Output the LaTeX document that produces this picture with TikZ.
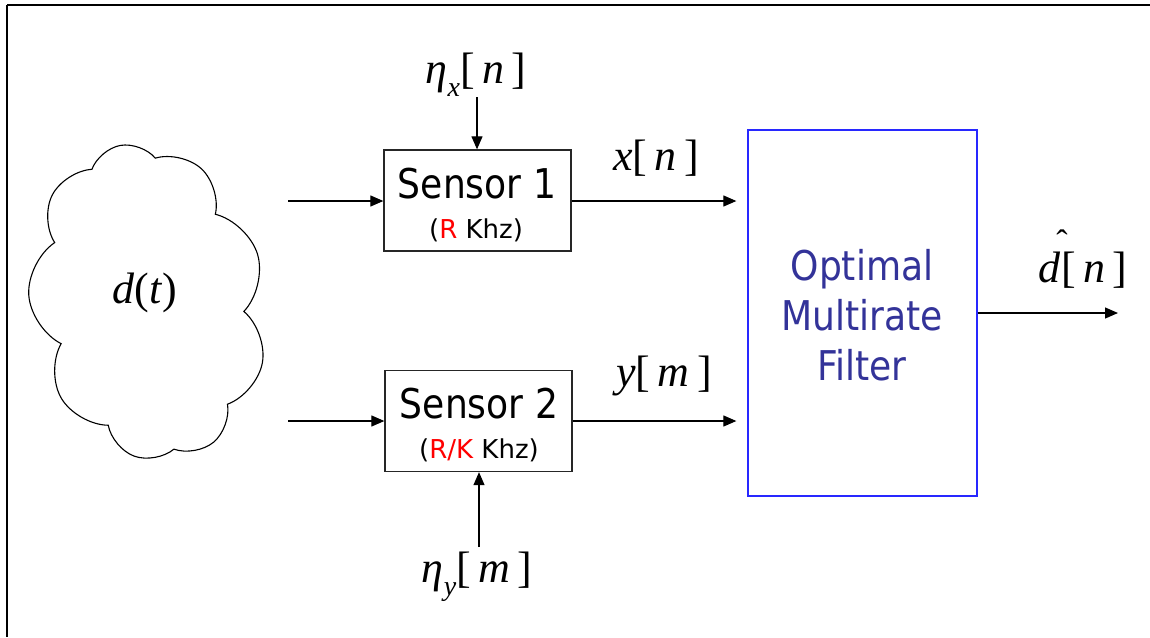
\documentclass[tikz,border=0pt]{standalone}
\usepackage{fontspec}
\setmainfont{Liberation Serif}
\newfontfamily\sensorfont[FakeStretch=0.88]{DejaVu Sans}
\newfontfamily\ratefont{DejaVu Sans}
\usetikzlibrary{arrows.meta,shapes.symbols}
\definecolor{filterblue}{RGB}{51,51,153}
\definecolor{boxblue}{RGB}{40,40,255}
\definecolor{rateRed}{RGB}{255,0,0}
\tikzset{
  conn/.style={line width=1.2pt,-{Triangle[length=13pt,width=11pt]}},
  sensorbox/.style={draw=black!85,line width=1.3pt,minimum width=187pt,minimum height=101pt,inner sep=0pt},
  filterbox/.style={draw=boxblue,line width=1.3pt,minimum width=229pt,minimum height=366pt,inner sep=0pt},
  biglbl/.style={font=\sensorfont\fontsize{41}{47}\selectfont,inner sep=0pt,anchor=base},
  smalllbl/.style={font=\ratefont\fontsize{26}{30}\selectfont,inner sep=0pt,anchor=base},
  mathlbl/.style={font=\fontsize{44}{50}\selectfont,inner sep=0pt,anchor=base},
}
\begin{document}
\begin{tikzpicture}[x=1pt,y=-1pt]
\useasboundingbox (0,0) rectangle (1150,637);
% frame
\draw[line width=2pt] (7,5) -- (1150,5);
\draw[line width=1.2pt] (7,5) -- (7,637);
% cloud
\node[cloud,draw,line width=1.1pt,cloud puffs=9,cloud puff arc=120,cloud ignores aspect,
      minimum width=236pt,minimum height=318pt,inner sep=0pt,rotate=10] (cloud) at (148,302) {};
\node[mathlbl] (dt) at (145,303) {\textit{d}(\textit{t})};
% sensors
\node[sensorbox] (s1) at (477.5,200.5) {};
\node[biglbl] (s1t) at (477,198) {Sensor 1};
\node[smalllbl] (s1r) at (476,238) {(\textcolor{rateRed}{R} Khz)};
\node[sensorbox] (s2) at (478.5,421) {};
\node[biglbl] (s2t) at (479,418) {Sensor 2};
\node[smalllbl] (s2r) at (479,458) {(\textcolor{rateRed}{R/K} Khz)};
% filter
\node[filterbox] (flt) at (862.5,313) {};
\node[biglbl,text=filterblue] (f1) at (862,280) {Optimal};
\node[biglbl,text=filterblue] (f2) at (862,330) {Multirate};
\node[biglbl,text=filterblue] (f3) at (862,380) {Filter};
% input arrows
\coordinate (c1) at (288,201);
\coordinate (c2) at (288,421);
\draw[conn] (c1) -- (s1.west |- c1);
\draw[conn] (c2) -- (s2.west |- c2);
% noise
\node[mathlbl] (etax) at (476,83) {\textit{η}\raisebox{-0.3em}{\fontsize{28}{30}\selectfont\textit{x}}[\,\textit{n}\,]};
\coordinate (ex) at (477,97);
\draw[conn] (ex) -- (s1.north -| ex);
\node[mathlbl] (etay) at (477,582) {\textit{η}\raisebox{-0.3em}{\fontsize{28}{30}\selectfont\textit{y}}[\,\textit{m}\,]};
\coordinate (ey) at (479,547);
\draw[conn] (ey) -- (s2.south -| ey);
% outputs to filter
\draw[conn,shorten >=11pt] (s1.east |- c1) -- (flt.west |- c1);
\node[mathlbl] (xn) at (656,170) {\textit{x}[\,\textit{n}\,]};
\draw[conn,shorten >=11pt] (s2.east |- c2) -- (flt.west |- c2);
\node[mathlbl] (ym) at (664,386) {\textit{y}[\,\textit{m}\,]};
% output
\coordinate (out) at (1118,313);
\draw[conn] (flt.east |- out) -- (out);
\node[mathlbl] (dh) at (1083,282) {\textit{d}[\,\textit{n}\,]};
\node[font=\fontsize{34}{34}\selectfont,inner sep=0pt,anchor=base] (hat) at (1062,253) {ˆ};
\end{tikzpicture}
\end{document}
